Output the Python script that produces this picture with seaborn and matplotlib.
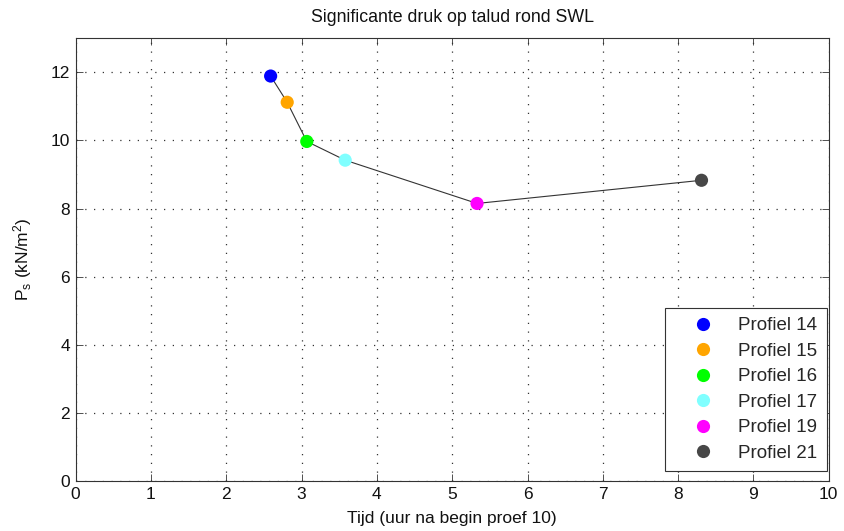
import matplotlib
matplotlib.use("Agg")
import matplotlib.pyplot as plt
import seaborn as sns
import pandas as pd

# Measurements per profile
profielen = ["Profiel 14", "Profiel 15", "Profiel 16", "Profiel 17", "Profiel 19", "Profiel 21"]
tijd = [2.59, 2.81, 3.07, 3.58, 5.33, 8.31]
druk = [11.89, 11.12, 9.97, 9.42, 8.15, 8.83]
kleuren = ["#0000FF", "#FFA500", "#00FF00", "#80FFFF", "#FF00FF", "#474747"]

sns.set_theme(style="white")
plt.rcParams["font.family"] = ["Liberation Sans", "DejaVu Sans"]
plt.rcParams["mathtext.default"] = "regular"

df = pd.DataFrame({"tijd": tijd, "druk": druk, "profiel": profielen})

fig = plt.figure(figsize=(8.44, 5.31), dpi=100)
ax = fig.add_axes([0.0895, 0.094, 0.8925, 0.834])

sns.lineplot(data=df, x="tijd", y="druk", ax=ax, color="#333333", lw=0.8,
             sort=False, legend=False, zorder=2)
sns.scatterplot(data=df, x="tijd", y="druk", hue="profiel", palette=kleuren,
                s=90, edgecolor="none", ax=ax, zorder=3)

ax.set_xlim(0, 10)
ax.set_ylim(0, 13)
ax.set_xticks(range(0, 11))
ax.set_yticks(range(0, 13, 2))
ax.grid(True, linestyle=(0, (1, 6)), color="#333333", linewidth=0.9)
ax.tick_params(direction="in", length=5, width=0.6, color="#333333",
               top=True, right=True, bottom=True, left=True,
               labelsize=12.5, labelcolor="#111111", pad=4)
for sp in ax.spines.values():
    sp.set_color("#333333")
    sp.set_linewidth(0.8)

ax.set_title("Significante druk op talud rond SWL", fontsize=12.8, pad=12, color="#111111")
ax.set_xlabel("Tijd (uur na begin proef 10)", fontsize=12.5, labelpad=7, color="#111111")
ax.set_ylabel("P$_s$ (kN/m$^2$)", fontsize=12.5, labelpad=12, color="#111111")

leg = ax.legend(loc="lower right", fontsize=13.5, frameon=True, fancybox=False,
                edgecolor="#333333", framealpha=1, borderpad=0.5,
                handlelength=3.1, handletextpad=0.3, labelspacing=0.45,
                markerscale=1.0, borderaxespad=0,
                bbox_to_anchor=(0.997, 0.022))
leg.get_frame().set_linewidth(0.8)

fig.savefig("out.png", dpi=100)
